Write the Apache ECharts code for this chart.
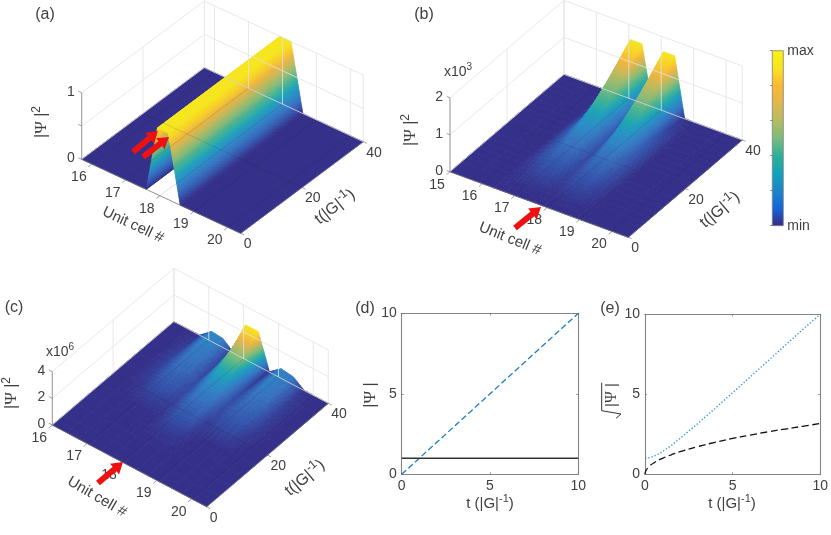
<!DOCTYPE html>
<html>
<head>
<meta charset="utf-8">
<title>Psi surfaces</title>
<style>html,body{margin:0;padding:0;background:#fff}#main{width:831px;height:535px}</style>
<script src="https://cdn.jsdelivr.net/npm/echarts@6/dist/echarts.min.js"></script>
</head>
<body>
<div id="main"></div>
<script>
// colorbar colours, low to high
var parula = ["#352a87","#1565d8","#1a86c8","#10a2b8","#2eb09a","#7abd7c","#b5bb62","#e0b74a","#fbb833","#f7e41f","#f9f20e"];
// the surfaces look a bit washed compared to the bar
var surfaceMap = ["#35308a","#3354ac","#3672c0","#2b8bc6","#1da3b8","#43b394","#86bb78","#bcba5e","#edb543","#f9cf2a","#f5e61f"];

// panel (a): |Psi|^2 on unit cell / time nodes
var aCells = [15.7,17.6,17.93,18.25,18.6,20.38];
var aTimes = [0,40];
var aZ = [
  [0,0,1,1,0,0],
  [0,0,1,1,0,0]
];
// panel (b), in units of 1e3
var bCells = [15,16.35,16.7,17.05,17.4,17.73,18.07,18.41,18.72,19.05,20.5];
var bTimes = [0,4,8,12,16,20,24,28,32,36,40];
var bZ = [
  [0,0,0,0,0,0,0,0,0,0,0],
  [0,0,.004,.01,.01,.004,.01,.01,.004,0,0],
  [0,.002,.05,.1,.1,.04,.1,.1,.05,.002,0],
  [0,.004,.1,.18,.18,.08,.18,.18,.1,.004,0],
  [0,.006,.14,.28,.28,.1,.28,.28,.14,.006,0],
  [0,.006,.17,.4,.4,.12,.4,.4,.17,.006,0],
  [0,.005,.2,.56,.56,.13,.56,.56,.2,.005,0],
  [0,.004,.18,.78,.78,.12,.78,.78,.18,.004,0],
  [0,.003,.12,1.02,1.02,.08,1.02,1.02,.12,.003,0],
  [0,.001,.06,1.3,1.3,.04,1.3,1.3,.06,.001,0],
  [0,0,.01,1.6,1.6,.01,1.6,1.6,.01,0,0]
];
// panel (c), in units of 1e6
var cCells = [16,16.42,16.75,17.08,17.4,17.72,18.06,18.42,18.74,19.08,19.42,19.73,20.05,20.43];
var cTimes = [0,4,8,12,16,20,24,28,32,36,40];
var cZ = [
  [0,0,0,0,0,0,0,0,0,0,0,0,0,0],
  [0,0,0,0,0,0,0,0,0,0,0,0,0,0],
  [0,0,0,0,0,0,0,0,0,0,0,0,0,0],
  [0,0,0,0,0,.004,.05,.05,.004,0,0,0,0,0],
  [0,0,0,.01,.01,.02,.2,.2,.02,.01,.01,0,0,0],
  [0,0,.04,.16,.15,.1,.36,.36,.1,.17,.15,.04,0,0],
  [0,0,.1,.3,.28,.16,.55,.55,.16,.32,.28,.1,0,0],
  [0,0,.13,.44,.4,.18,.82,.82,.18,.45,.4,.13,0,0],
  [0,0,.12,.56,.5,.15,1.2,1.2,.15,.58,.5,.12,0,0],
  [0,0,.08,.68,.6,.08,1.75,1.75,.08,.66,.56,.08,0,0],
  [0,0,.02,.75,.68,.02,2.6,2.6,.02,.72,.6,.02,0,0]
];
// tick labels of the 3d panels
var aCellTicks = [16,17,18,19,20], bCellTicks = [15,16,17,18,19,20], cCellTicks = [16,17,18,19,20];
var timeTicks = [0,20,40];
var aZTicks = [0,.5,1], bZTicks = [0,1,2], cZTicks = [0,2,4];
var aZLabels = [0,1], bZLabels = [0,1,2], cZLabels = [0,2,4];

// panel (d)
var dTime = [0,1,2,3,4,5,6,7,8,9,10];
var dLinear = [0,1,2,3,4,5,6,7,8,9,10];
var dConst = [1,1,1,1,1,1,1,1,1,1,1];
// panel (e)
var eTime = [0,.05,.25,.5,1,1.5,2,3,4,5,6,7,8,9,10];
var eDotted = [1,1,1.03,1.12,1.41,1.8,2.24,3.16,4.12,5.1,6.08,7.07,8.06,9.05,10];
var eDashed = [0,.22,.5,.71,1,1.22,1.41,1.73,2,2.24,2.45,2.65,2.83,3,3.18];

var FONT = "Liberation Sans", TXT = "#404040", AXC = "#777777", WALL = "#e2e2e2";

// oblique projection set up for each panel, screen pixels
var panelA = {xs:aCells,ts:aTimes,zs:aZ,ticks:aCellTicks,zt:aZTicks,zl:aZLabels,xmin:15.7,xmax:20.38,zTop:1,zMax:1,
  L:[81.7,159.3],B:[240.7,233.3],R:[363.3,141.7],zPx:66.6};
var panelB = {xs:bCells,ts:bTimes,zs:bZ,ticks:bCellTicks,zt:bZTicks,zl:bZLabels,xmin:15,xmax:20.5,zTop:2,zMax:1.6,
  L:[450,171.7],B:[628.3,237.3],R:[742.3,140],zPx:37};
var panelC = {xs:cCells,ts:cTimes,zs:cZ,ticks:cCellTicks,zt:cZTicks,zl:cZLabels,xmin:16,xmax:20.43,zTop:4,zMax:2.6,
  L:[52.3,425],B:[206.7,506.7],R:[328.3,403.3],zPx:13.33};

function project(p,x,t,z){
  var fx=(x-p.xmin)/(p.xmax-p.xmin), ft=t/40;
  return [p.L[0]+fx*(p.B[0]-p.L[0])+ft*(p.R[0]-p.B[0]),
          p.L[1]+fx*(p.B[1]-p.L[1])+ft*(p.R[1]-p.B[1])-z*p.zPx];
}
function colorAt(v){ return echarts.color.lerp(Math.max(0,Math.min(1,v)),surfaceMap); }

// one series per surface, cells listed back to front so nearer cells paint over
function surfaceSeries(p){
  var items=[];
  for(var j=p.ts.length-2;j>=0;j--){ for(var i=0;i<p.xs.length-1;i++){ items.push([i,j]); } }
  return {type:"custom",xAxisIndex:0,yAxisIndex:0,silent:true,data:items,clip:false,
    renderItem:function(params,api){
      var i=api.value(0), j=api.value(1);
      var z00=p.zs[j][i], z10=p.zs[j][i+1], z01=p.zs[j+1][i], z11=p.zs[j+1][i+1];
      // split by height change so the colour steps stay under a couple of pixels
      var dzx=Math.max(Math.abs(z10-z00),Math.abs(z11-z01))/p.zMax, dzt=Math.max(Math.abs(z01-z00),Math.abs(z11-z10))/p.zMax;
      var nx=dzx===0?1:Math.min(36,Math.ceil(dzx*60)+1), nt=dzt===0?1:Math.min(12,Math.ceil(dzt*40)+1);
      var kids=[];
      function zz(a,b){ return (z00*(1-a)+z10*a)*(1-b)+(z01*(1-a)+z11*a)*b; }
      function pt(a,b){
        var x=p.xs[i]+(p.xs[i+1]-p.xs[i])*a, t=p.ts[j]+(p.ts[j+1]-p.ts[j])*b;
        return api.coord(project(p,x,t,zz(a,b)));
      }
      for(var b=nt-1;b>=0;b--){ for(var a=0;a<nx;a++){
        var a0=a/nx,a1=(a+1)/nx,b0=b/nt,b1=(b+1)/nt;
        var c=colorAt(zz((a0+a1)/2,(b0+b1)/2)/p.zMax);
        kids.push({type:"polygon",shape:{points:[pt(a0,b0),pt(a1,b0),pt(a1,b1),pt(a0,b1)]},
          style:{fill:c,stroke:c,lineWidth:.8}});
      }}
      return {type:"group",children:kids};
    }};
}

function segSeries(p,segs,style){
  return {type:"custom",xAxisIndex:0,yAxisIndex:0,silent:true,data:segs,clip:false,
    renderItem:function(params,api){
      var a=api.coord(project(p,api.value(0),api.value(1),api.value(2)));
      var b=api.coord(project(p,api.value(3),api.value(4),api.value(5)));
      return {type:"line",shape:{x1:a[0],y1:a[1],x2:b[0],y2:b[1]},style:style};
    }};
}
function wallSegs(p){
  var s=[],Z=p.zTop;
  p.ticks.forEach(function(k){ s.push([k,40,0,k,40,Z]); });
  timeTicks.forEach(function(t){ s.push([p.xmin,t,0,p.xmin,t,Z]); });
  p.zt.forEach(function(z){ s.push([p.xmin,0,z,p.xmin,40,z]); s.push([p.xmin,40,z,p.xmax,40,z]); });
  s.push([p.xmax,40,0,p.xmax,40,Z]);
  return s;
}
function floorSegs(p){
  var s=[];
  p.ticks.forEach(function(k){ s.push([k,0,0,k,40,0]); });
  timeTicks.forEach(function(t){ s.push([p.xmin,t,0,p.xmax,t,0]); });
  return s;
}
function axisSegs(p){
  var s=[[p.xmin,0,0,p.xmin,0,p.zTop],[p.xmin,0,0,p.xmax,0,0],[p.xmax,0,0,p.xmax,40,0]];
  p.ticks.forEach(function(k){ s.push([k,0,0,k,-1.2,0]); });
  timeTicks.forEach(function(t){ s.push([p.xmax,t,0,p.xmax+.1,t,0]); });
  p.zt.forEach(function(z){ s.push([p.xmin,0,z,p.xmin-.1,0,z]); });
  return s;
}
// tick labels placed through the same projection
function labelSeries(p){
  var items=[];
  p.ticks.forEach(function(k){ items.push([k,0,0,-13,13,String(k),"center"]); });
  timeTicks.forEach(function(t){ items.push([p.xmax,t,0,3,11,String(t),"left"]); });
  p.zl.forEach(function(z){ items.push([p.xmin,0,z,-7,-1,String(z),"right"]); });
  return {type:"custom",xAxisIndex:0,yAxisIndex:0,silent:true,clip:false,
    dimensions:["x","t","z","dx","dy",{name:"s",type:"ordinal"},{name:"al",type:"ordinal"}],
    data:items,encode:{x:0,y:1},
    renderItem:function(params,api){
      var d=items[params.dataIndex];
      var c=api.coord(project(p,d[0],d[1],d[2]));
      return {type:"text",x:c[0]+d[3],y:c[1]+d[4],
        style:{text:d[5],textAlign:d[6],textVerticalAlign:"middle",fontSize:14,fontFamily:FONT,fill:TXT}};
    }};
}
function panelSeries(p){
  return [
    surfaceSeries(p),
    segSeries(p,floorSegs(p),{stroke:"rgba(30,30,30,.22)",lineWidth:.7,fill:null}),
    segSeries(p,wallSegs(p),{stroke:WALL,lineWidth:.8,fill:null,blend:"multiply"}),
    segSeries(p,axisSegs(p),{stroke:AXC,lineWidth:.7,fill:null}),
    labelSeries(p)
  ];
}

function zipXY(a,b){ return a.map(function(v,i){ return [v,b[i]]; }); }
function plotAxis(gridIndex,pos,labels){
  return {type:"value",gridIndex:gridIndex,position:pos,min:0,max:10,interval:5,
    axisLine:{show:true,onZero:false,lineStyle:{color:"#858585",width:1.1}},
    axisTick:{show:true,inside:true,length:2,lineStyle:{color:AXC,width:.8}},
    axisLabel:{show:labels,color:TXT,fontSize:14,fontFamily:FONT,margin:5},
    splitLine:{show:false}};
}

var series=[].concat(panelSeries(panelA),panelSeries(panelB),panelSeries(panelC));
series.push(
  {type:"line",xAxisIndex:1,yAxisIndex:1,data:zipXY(dTime,dLinear),showSymbol:false,silent:true,
    lineStyle:{color:"#1f7fc4",width:1.3,type:[6,3]}},
  {type:"line",xAxisIndex:1,yAxisIndex:1,data:zipXY(dTime,dConst),showSymbol:false,silent:true,
    lineStyle:{color:"#333",width:1.4}},
  {type:"line",xAxisIndex:3,yAxisIndex:3,data:zipXY(eTime,eDotted),showSymbol:false,silent:true,
    lineStyle:{color:"#2a8fdc",width:1.3,type:[1.3,2]}},
  {type:"line",xAxisIndex:3,yAxisIndex:3,data:zipXY(eTime,eDashed),showSymbol:false,silent:true,smooth:true,
    lineStyle:{color:"#111",width:1.3,type:[7,3.5]}},
  {type:"custom",xAxisIndex:5,yAxisIndex:5,silent:true,data:[[0,0,1,1]],
    renderItem:function(params,api){
      var a=api.coord([api.value(0),api.value(1)]), b=api.coord([api.value(2),api.value(3)]);
      var stops=parula.map(function(c,i){ return {offset:i/(parula.length-1),color:c}; });
      return {type:"rect",shape:{x:a[0],y:b[1],width:b[0]-a[0],height:a[1]-b[1]},
        style:{fill:new echarts.graphic.LinearGradient(0,1,0,0,stops)}};
    }}
);

function txt(x,y,text,size,rot,rich){
  return {type:"text",x:x,y:y,rotation:(rot||0)*Math.PI/180,silent:true,
    style:{text:text,fontSize:size,fontFamily:FONT,fill:TXT,textAlign:"center",textVerticalAlign:"middle",rich:rich||undefined}};
}
function richSet(size){
  return {
    sup:{fontSize:size-4,fontFamily:FONT,fill:TXT,verticalAlign:"top"},
    b:{fontSize:size,fontFamily:FONT,fill:TXT,lineHeight:size+6},
    p:{fontSize:size+1,fontFamily:"Liberation Serif",fill:TXT,lineHeight:size+6}
  };
}
var r14=richSet(14), r16=richSet(16);
var psi2="{b||}{p|\u03A8}{b| |}{sup|2}", psi1="{b||}{p|\u03A8}{b| |}";
var tLabel="{b|t(|G|}{sup|-1}{b|)}", tLabel2="{b|t (|G|}{sup|-1}{b|)}";
function arrow(x0,y0,x1,y1){
  // block arrow from tail to tip
  var dx=x1-x0,dy=y1-y0,l=Math.sqrt(dx*dx+dy*dy),ux=dx/l,uy=dy/l,nx=-uy,ny=ux,h=11,w=3,W=7;
  var bx=x1-ux*h,by=y1-uy*h;
  return {type:"polygon",silent:true,z:50,shape:{points:[[x0+nx*w,y0+ny*w],[bx+nx*w,by+ny*w],[bx+nx*W,by+ny*W],[x1,y1],
    [bx-nx*W,by-ny*W],[bx-nx*w,by-ny*w],[x0-nx*w,y0-ny*w]]},style:{fill:"#ee1111"}};
}
var graphics=[
  txt(45,15,"(a)",16),txt(424,15,"(b)",16),txt(14,308,"(c)",16),txt(365,309,"(d)",16),txt(610,309,"(e)",16),
  txt(133,225,"Unit cell #",15,-25),txt(510,239,"Unit cell #",15,-22),txt(97,497,"Unit cell #",15,-30),
  txt(335,207,tLabel,16,38,r16),txt(720,210,tLabel,16,40,r16),txt(305,478,tLabel,16,40,r16),
  txt(42,122,psi2,16,90,r16),txt(411,130,psi2,16,90,r16),txt(12,393,psi2,16,90,r16),
  txt(458,72,"{b|x10}{sup|3}",14,0,r14),txt(60,352,"{b|x10}{sup|6}",14,0,r14),
  txt(490,504,tLabel2,15,0,richSet(15)),txt(732,504,tLabel2,15,0,richSet(15)),
  txt(371,395,psi1,16,90,r16),txt(612,395,psi1,15,90,richSet(15)),
  {type:"polyline",silent:true,shape:{points:[[601.7,382.7],[601.7,410.7],[621,414],[616,418.3]]},
    style:{stroke:"#333",lineWidth:1,fill:null}},
  arrow(133,152,158,131),arrow(143,157,169,137),arrow(515,228,541,207),arrow(98,483,123,462)
];

var chart=echarts.init(document.getElementById("main"),null,{width:831,height:535});
chart.setOption({
  animation:false,
  backgroundColor:"#fff",
  grid:[
    {left:0,top:0,width:831,height:535},
    {left:401.7,top:313.3,width:176.6,height:161},
    {left:645,top:314.3,width:175.7,height:160},
    {left:772.3,top:50.7,width:11,height:175,show:true,borderColor:"#808080",borderWidth:.8,z:5}
  ],
  xAxis:[
    {type:"value",gridIndex:0,min:0,max:831,show:false},
    plotAxis(1,"bottom",true),plotAxis(1,"top",false),
    plotAxis(2,"bottom",true),plotAxis(2,"top",false),
    {type:"value",gridIndex:3,min:0,max:1,show:false}
  ],
  yAxis:[
    {type:"value",gridIndex:0,min:0,max:535,inverse:true,show:false},
    plotAxis(1,"left",true),plotAxis(1,"right",false),
    plotAxis(2,"left",true),plotAxis(2,"right",false),
    {type:"value",gridIndex:3,min:0,max:1,interval:.2,position:"right",
      axisLine:{show:false},axisTick:{show:true,inside:true,length:2,lineStyle:{color:"#555",width:.8}},splitLine:{show:false},
      axisLabel:{color:TXT,fontSize:14,fontFamily:FONT,margin:4,formatter:function(v){ return v===0?"min":(v===1?"max":""); }}}
  ],
  series:series,
  graphic:graphics
});
</script>
</body>
</html>
